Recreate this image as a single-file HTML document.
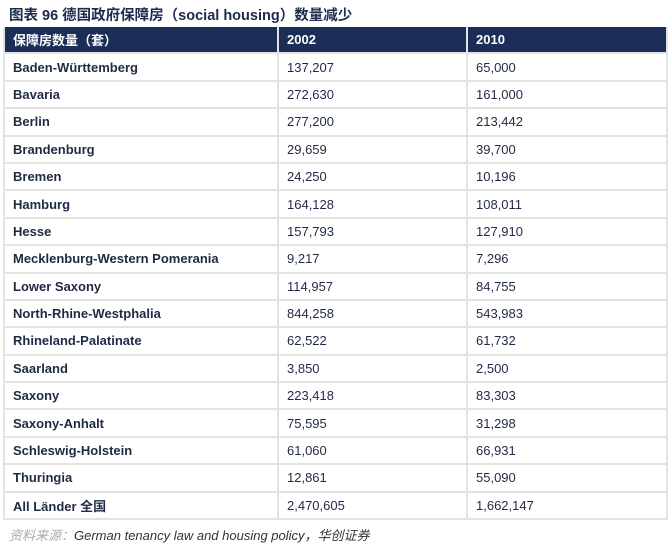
<!DOCTYPE html>
<html><head><meta charset="utf-8"><style>
body{margin:0;width:668px;height:546px;background:#fff;font-family:"Liberation Sans","Noto Sans CJK SC",sans-serif;position:relative;overflow:hidden}
.title{position:absolute;left:9px;top:4px;font-size:14.5px;font-weight:bold;color:#1d2a4d;white-space:nowrap}
table{position:absolute;left:3px;top:27px;width:663px;border-collapse:collapse;table-layout:fixed}
td,th{height:25.4px;border:2px solid #e3e3e3;padding:0 0 0 8px;font-size:13px;color:#1f2a44;text-align:left;white-space:nowrap}
th{background:#1c2e58;color:#fff;font-weight:bold;border-color:#e3e3e3;border-top:none}
td.n{font-weight:bold}
.src{position:absolute;left:9px;top:525px;font-size:13px;font-style:italic;color:#333;white-space:nowrap}
.src span{color:#aaa}
</style></head><body>
<div class="title">图表 96 德国政府保障房（social housing）数量减少</div>
<table>
<colgroup><col style="width:274px"><col style="width:189px"><col style="width:200px"></colgroup>
<thead><tr><th>保障房数量（套）</th><th>2002</th><th>2010</th></tr></thead>
<tbody id="tb"></tbody></table>
<div class="src"><span>资料来源：</span>German tenancy law and housing policy，华创证券</div>
<script>
const regions=["Baden-Württemberg","Bavaria","Berlin","Brandenburg","Bremen","Hamburg","Hesse","Mecklenburg-Western Pomerania","Lower Saxony","North-Rhine-Westphalia","Rhineland-Palatinate","Saarland","Saxony","Saxony-Anhalt","Schleswig-Holstein","Thuringia","All Länder 全国"];
const v2002=["137,207","272,630","277,200","29,659","24,250","164,128","157,793","9,217","114,957","844,258","62,522","3,850","223,418","75,595","61,060","12,861","2,470,605"];
const v2010=["65,000","161,000","213,442","39,700","10,196","108,011","127,910","7,296","84,755","543,983","61,732","2,500","83,303","31,298","66,931","55,090","1,662,147"];
const tb=document.getElementById('tb');
regions.forEach((r,i)=>{
const tr=document.createElement('tr');


[r,v2002[i],v2010[i]].forEach((t,j)=>{
const td=document.createElement('td');
td.textContent=t;
if(j===0)td.className='n';


tr.appendChild(td);});
tb.appendChild(tr);});
</script>
</body></html>
